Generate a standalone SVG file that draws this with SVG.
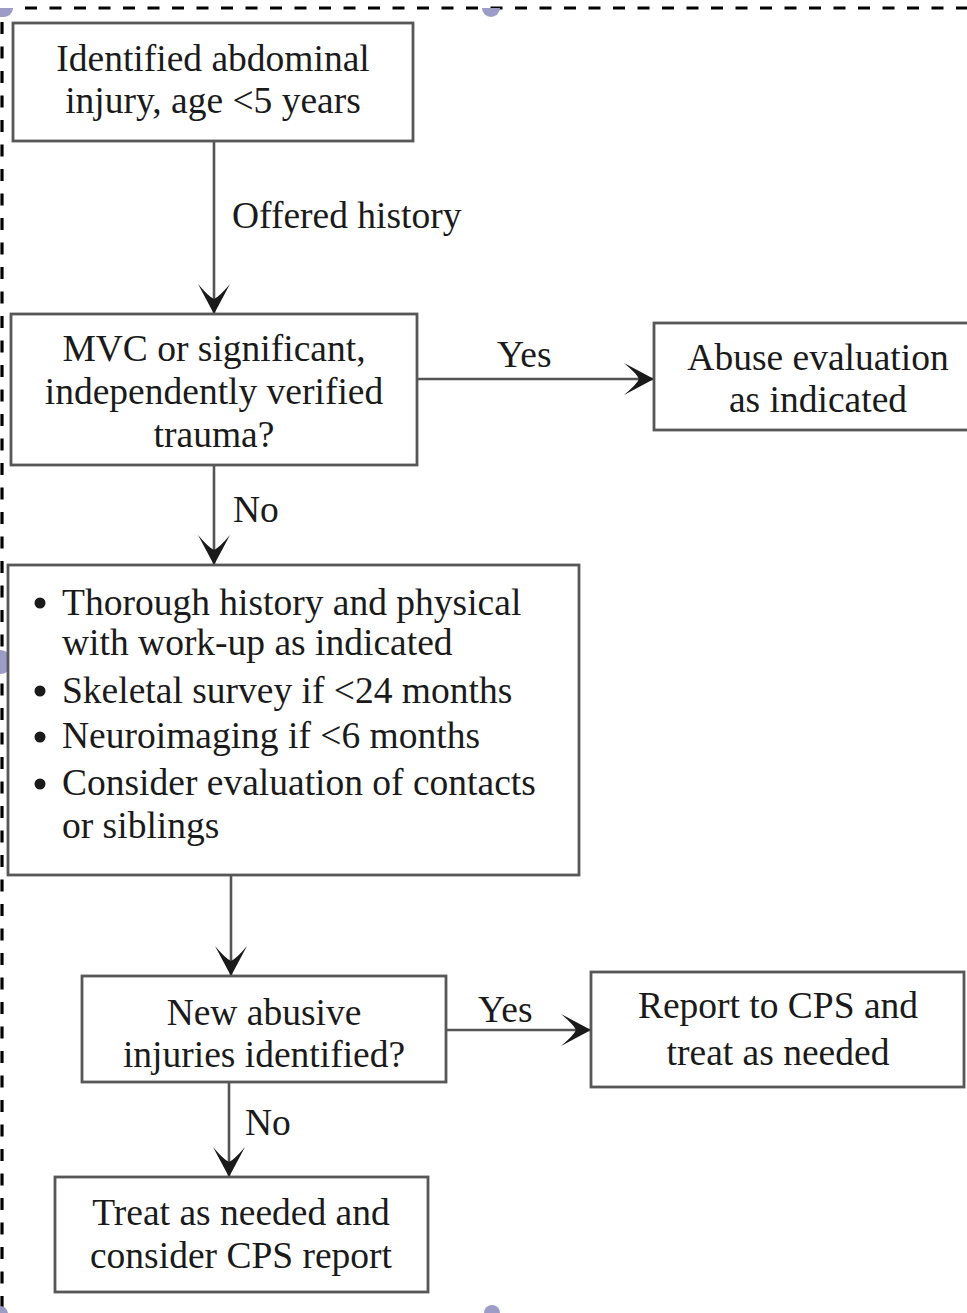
<svg xmlns="http://www.w3.org/2000/svg" width="967" height="1313" viewBox="0 0 967 1313">
<style>
.box{fill:#ffffff;stroke:#575757;stroke-width:2.8}
.t{font-family:"Liberation Serif","Times New Roman",serif;font-size:37.5px;fill:#1a1a1a}
.c{text-anchor:middle}
.conn{stroke:#555555;stroke-width:2.6;fill:none}
.frame{stroke:#000;stroke-width:3.2;stroke-dasharray:12 12.5;fill:none}
.handle{fill:#9c9cc6}
</style>
<defs>
<marker id="ah" markerUnits="userSpaceOnUse" markerWidth="34" markerHeight="36" refX="32" refY="18" orient="auto" viewBox="0 0 34 36">
<path d="M32,18 L2,2 Q15,13 17,18 Q15,23 2,34 Z" fill="#1a1a1a"/>
</marker>
</defs>
<rect width="967" height="1313" fill="#ffffff"/>
<g id="frame">
<line class="frame" x1="25" y1="8" x2="967" y2="8"/>
<line class="frame" x1="2" y1="22" x2="2" y2="1313"/>
<path class="handle" d="M0,8 L13,8 A9,9 0 0 1 4,17 L0,17 Z"/>
<path class="handle" d="M482,8 A9,9 0 0 0 500,8 Z"/>
<path class="handle" d="M0,650 A12,12 0 0 1 0,674 Z"/>
<path class="handle" d="M0,1313 L0,1306 A8,8 0 0 1 8,1313 Z"/>
<path class="handle" d="M484,1313 A8,8 0 0 1 500,1313 Z"/>
</g>
<g id="connectors">
<line class="conn" x1="214" y1="141" x2="214" y2="314" marker-end="url(#ah)"/>
<line class="conn" x1="214" y1="465" x2="214" y2="565" marker-end="url(#ah)"/>
<line class="conn" x1="417" y1="379" x2="654" y2="379" marker-end="url(#ah)"/>
<line class="conn" x1="231" y1="875" x2="231" y2="976" marker-end="url(#ah)"/>
<line class="conn" x1="446" y1="1030" x2="591" y2="1030" marker-end="url(#ah)"/>
<line class="conn" x1="229" y1="1082" x2="229" y2="1177" marker-end="url(#ah)"/>
<text class="t" x="232" y="228">Offered history</text>
<text class="t" x="497" y="367">Yes</text>
<text class="t" x="233" y="522">No</text>
<text class="t" x="478" y="1022">Yes</text>
<text class="t" x="245" y="1135">No</text>
</g>
<g id="n1">
<rect class="box" x="13" y="23" width="400" height="118"/>
<text class="t c" x="213" y="71">Identified abdominal</text>
<text class="t c" x="213" y="113">injury, age &lt;5 years</text>
</g>
<g id="n2">
<rect class="box" x="11" y="314" width="406" height="151"/>
<text class="t c" x="214" y="361">MVC or significant,</text>
<text class="t c" x="214" y="404">independently verified</text>
<text class="t c" x="214" y="447">trauma?</text>
</g>
<g id="n3">
<rect class="box" x="654" y="323" width="330" height="107"/>
<text class="t c" x="818" y="370">Abuse evaluation</text>
<text class="t c" x="818" y="412">as indicated</text>
</g>
<g id="n4">
<rect class="box" x="8" y="565" width="571" height="310"/>
<circle cx="40" cy="603" r="5.5" fill="#1a1a1a"/>
<text class="t" x="62" y="615">Thorough history and physical</text>
<text class="t" x="62" y="655">with work-up as indicated</text>
<circle cx="40" cy="691" r="5.5" fill="#1a1a1a"/>
<text class="t" x="62" y="703">Skeletal survey if &lt;24 months</text>
<circle cx="40" cy="737" r="5.5" fill="#1a1a1a"/>
<text class="t" x="62" y="748">Neuroimaging if &lt;6 months</text>
<circle cx="40" cy="784" r="5.5" fill="#1a1a1a"/>
<text class="t" x="62" y="795">Consider evaluation of contacts</text>
<text class="t" x="62" y="838">or siblings</text>
</g>
<g id="n5">
<rect class="box" x="82" y="976" width="364" height="106"/>
<text class="t c" x="264" y="1025">New abusive</text>
<text class="t c" x="264" y="1067">injuries identified?</text>
</g>
<g id="n6">
<rect class="box" x="591" y="972" width="373" height="115"/>
<text class="t c" x="778" y="1018">Report to CPS and</text>
<text class="t c" x="778" y="1065">treat as needed</text>
</g>
<g id="n7">
<rect class="box" x="55" y="1177" width="373" height="115"/>
<text class="t c" x="241" y="1225">Treat as needed and</text>
<text class="t c" x="241" y="1268">consider CPS report</text>
</g>
</svg>
